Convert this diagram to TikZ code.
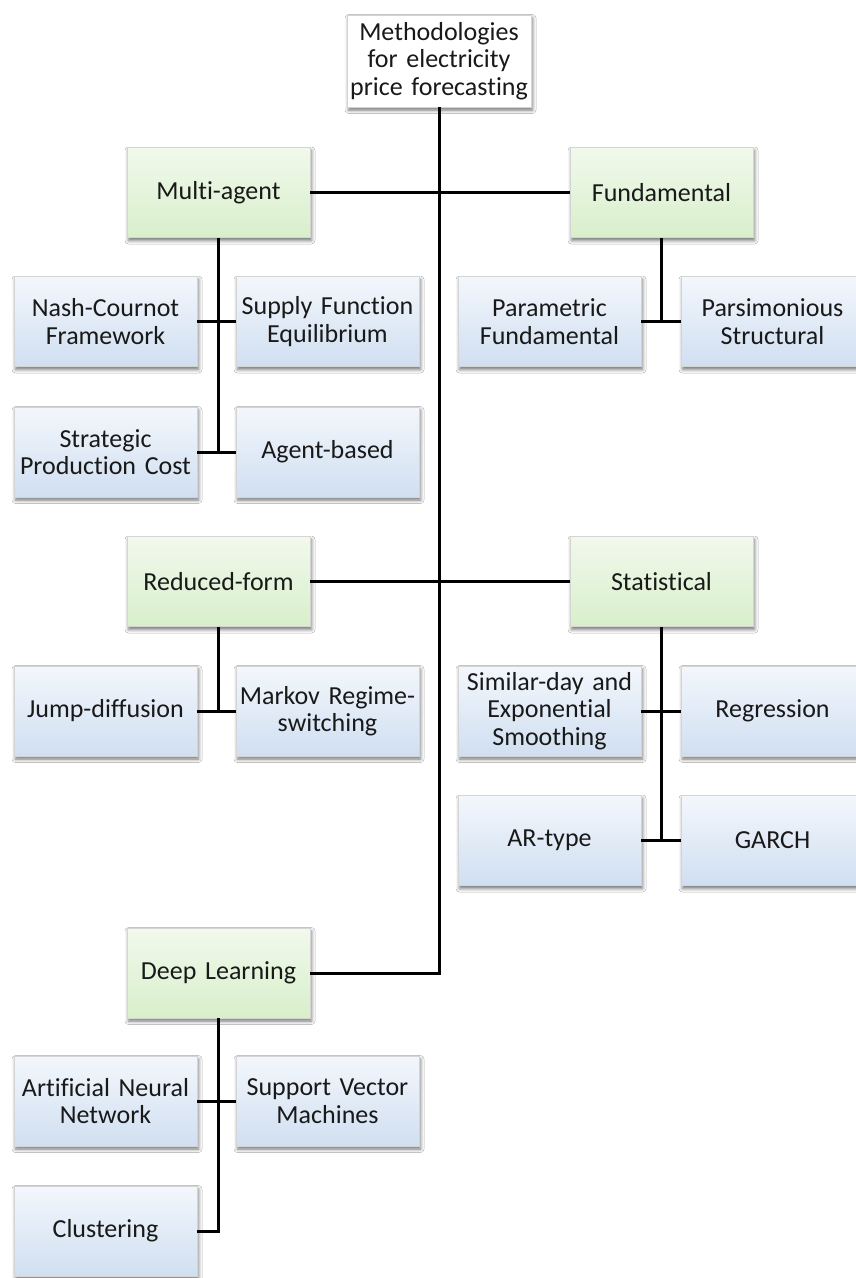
\documentclass[tikz,border=0pt]{standalone}
\usepackage{fontspec}
\setmainfont{Carlito}[Ligatures={NoCommon}]
\usetikzlibrary{shadows.blur}
\definecolor{bluetop}{HTML}{F3F7FC}
\definecolor{bluebot}{HTML}{D0DFF1}
\definecolor{greentop}{HTML}{F1F9EC}
\definecolor{greenbot}{HTML}{D8EFCB}
\definecolor{boxedge}{HTML}{D4D4D4}
\tikzset{
  box/.style={rectangle, draw=boxedge, line width=0.6pt, minimum width=183pt,
    minimum height=90pt, inner sep=0pt, align=center, text width=182pt,
    font=\fontsize{26}{27.5}\selectfont, text=black!90,
    blur shadow={shadow xshift=1.5pt, shadow yshift=-3pt, shadow blur radius=3.5pt, shadow opacity=55}},
  catbox/.style={box, top color=greentop, bottom color=greenbot},
  leafbox/.style={box, top color=bluetop, bottom color=bluebot},
  rootbox/.style={box, fill=white, minimum width=184pt, minimum height=92pt},
  link/.style={draw=black, line width=3pt}
}
\begin{document}
\begin{tikzpicture}[x=1pt, y=-1pt]
\useasboundingbox (0,0) rectangle (856,1278);
\clip (0,0) rectangle (856,1278);
\fill[white] (0,0) rectangle (856,1278);

% root
\node[rootbox] (root) at (439,61) {Methodologies\\for electricity\\price forecasting};

% first-level categories
\node[catbox] (ma) at (218.5,192.5) {Multi-agent};
\node[catbox] (fu) at (661.5,192.5) {Fundamental};
\node[catbox] (rf) at (218.5,581.5) {Reduced-form};
\node[catbox] (st) at (661.5,581.5) {Statistical};
\node[catbox] (dl) at (218.5,973) {Deep Learning};

% multi-agent methods
\node[leafbox] (nc)  at (105.5,321.5) {Nash-Cournot\\Framework};
\node[leafbox] (sfe) at (327.5,321.5) {Supply Function\\Equilibrium};
\node[leafbox] (spc) at (105.5,452) {Strategic\\Production Cost};
\node[leafbox] (ab)  at (327.5,452) {Agent-based};

% fundamental methods
\node[leafbox] (pf) at (549.5,321.5) {Parametric\\Fundamental};
\node[leafbox] (ps) at (772.5,321.5) {Parsimonious\\Structural};

% reduced-form methods
\node[leafbox] (jd) at (105.5,711) {Jump-diffusion};
\node[leafbox] (mr) at (327.5,711) {Markov Regime-\\switching};

% statistical methods
\node[leafbox] (sd)  at (549.5,711) {Similar-day and\\Exponential\\Smoothing};
\node[leafbox] (reg) at (772.5,711) {Regression};
\node[leafbox] (ar)  at (549.5,840.5) {AR-type};
\node[leafbox] (ga)  at (772.5,840.5) {GARCH};

% deep learning methods
\node[leafbox] (ann) at (105.5,1101) {Artificial Neural\\Network};
\node[leafbox] (svm) at (327.5,1101) {Support Vector\\Machines};
\node[leafbox] (cl)  at (105.5,1231) {Clustering};

% trunk and branches
\draw[link] (root.south) |- (dl.east);
\draw[link] (ma.east) -- (fu.west);
\draw[link] (rf.east) -- (st.west);

% multi-agent subtree
\draw[link] (ma.south) -- (ma.south |- ab.west);
\draw[link] (nc.east) -- (sfe.west);
\draw[link] (spc.east) -- (ab.west);

% fundamental subtree
\draw[link] (fu.south) -- (fu.south |- ps.west);
\draw[link] (pf.east) -- (ps.west);

% reduced-form subtree
\draw[link] (rf.south) -- (rf.south |- mr.west);
\draw[link] (jd.east) -- (mr.west);

% statistical subtree
\draw[link] (st.south) -- (st.south |- ga.west);
\draw[link] (sd.east) -- (reg.west);
\draw[link] (ar.east) -- (ga.west);

% deep learning subtree
\draw[link] (dl.south) |- (cl.east);
\draw[link] (ann.east) -- (svm.west);
\end{tikzpicture}
\end{document}
